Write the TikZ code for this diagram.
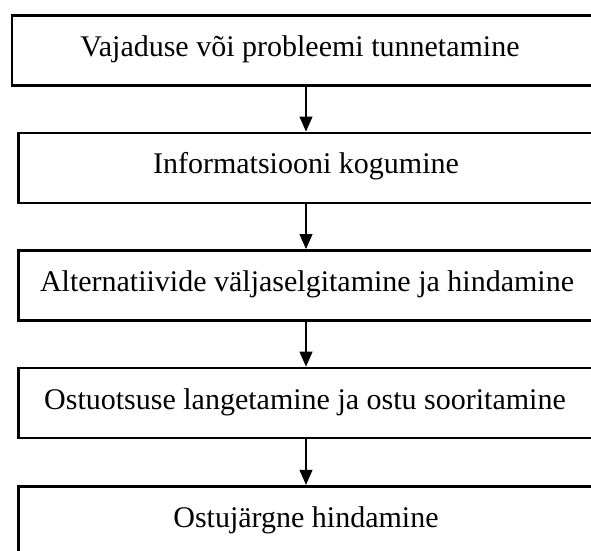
\documentclass[tikz,border=0pt]{standalone}
\usepackage{fontspec}
\setmainfont{Liberation Serif}
\usetikzlibrary{arrows.meta}
\begin{document}
\begin{tikzpicture}[x=1pt,y=-1pt,
  box/.style={draw, line width=2.7pt, minimum height=70pt, minimum width=640pt, anchor=north west, inner sep=0pt},
  lbl/.style={font=\fontsize{30}{34}\selectfont, inner sep=0pt},
  arr/.style={line width=1.1pt, -{Triangle[length=15pt,width=13pt]}}]
\useasboundingbox (0,0) rectangle (591,550);
\clip (0,0) rectangle (591,550);
\node[box] (b1) at (10.5,14) {};
\node[box] (b2) at (17,131.5) {};
\node[box] (b3) at (17,249) {};
\node[box] (b4) at (17,366.6) {};
\node[box] (b5) at (17,484.8) {};
\node[lbl] (t1) at (300,49) {Vajaduse või probleemi tunnetamine};
\node[lbl] (t2) at (306,166.5) {Informatsiooni kogumine};
\node[lbl] (t3) at (307,284) {Alternatiivide väljaselgitamine ja hindamine};
\node[lbl] (t4) at (305,402) {Ostuotsuse langetamine ja ostu sooritamine};
\node[lbl] (t5) at (306,520) {Ostujärgne hindamine};
\coordinate (ax) at (306,0);
\draw[arr] (b1.south -| ax) -- (b2.north -| ax);
\draw[arr] (b2.south -| ax) -- (b3.north -| ax);
\draw[arr] (b3.south -| ax) -- (b4.north -| ax);
\draw[arr] (b4.south -| ax) -- (b5.north -| ax);
\end{tikzpicture}
\end{document}
